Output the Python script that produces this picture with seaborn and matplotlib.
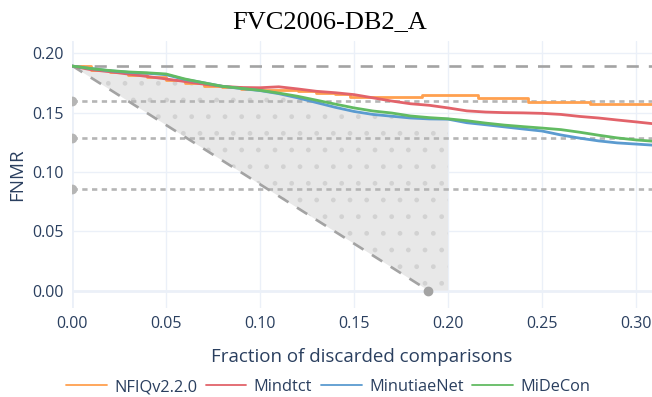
import numpy as np
import pandas as pd
import matplotlib
matplotlib.use("Agg")
import matplotlib.pyplot as plt
import seaborn as sns

# ---- data -------------------------------------------------------------
title = "FVC2006-DB2_A"
methods = ["NFIQv2.2.0", "Mindtct", "MinutiaeNet", "MiDeCon"]
colors = ["#ffa04f", "#e2636a", "#5b9bd0", "#62bb62"]

x_grid = [0.00, 0.01, 0.02, 0.03, 0.04, 0.05, 0.06, 0.07, 0.08, 0.09,
          0.10, 0.11, 0.12, 0.13, 0.14, 0.15, 0.16, 0.17, 0.18, 0.19,
          0.20, 0.21, 0.22, 0.23, 0.24, 0.25, 0.26, 0.27, 0.28, 0.29,
          0.30, 0.31]
fnmr_mindtct = [0.1893, 0.1862, 0.1845, 0.1825, 0.1805, 0.1784, 0.1762, 0.1740,
                0.1722, 0.1712, 0.1710, 0.1718, 0.1700, 0.1680, 0.1668, 0.1652,
                0.1625, 0.1598, 0.1575, 0.1562, 0.1540, 0.1515, 0.1505, 0.1500,
                0.1498, 0.1494, 0.1485, 0.1468, 0.1455, 0.1438, 0.1422, 0.1405]
fnmr_minutiaenet = [0.1893, 0.1872, 0.1853, 0.1840, 0.1832, 0.1820, 0.1780, 0.1752,
                    0.1722, 0.1703, 0.1686, 0.1660, 0.1625, 0.1585, 0.1545, 0.1510,
                    0.1485, 0.1470, 0.1455, 0.1447, 0.1445, 0.1415, 0.1398, 0.1380,
                    0.1362, 0.1345, 0.1312, 0.1285, 0.1262, 0.1245, 0.1235, 0.1225]
fnmr_midecon = [0.1893, 0.1872, 0.1855, 0.1843, 0.1836, 0.1826, 0.1784, 0.1752,
                0.1722, 0.1705, 0.1688, 0.1665, 0.1638, 0.1605, 0.1572, 0.1540,
                0.1514, 0.1497, 0.1472, 0.1458, 0.1448, 0.1432, 0.1412, 0.1395,
                0.1382, 0.1370, 0.1357, 0.1335, 0.1310, 0.1287, 0.1270, 0.1258]
# NFIQ curve is a step function: value holds until the next breakpoint
x_nfiq = [0.00, 0.01, 0.02, 0.03, 0.04, 0.05, 0.06, 0.07, 0.08, 0.09, 0.10,
          0.11, 0.12, 0.13, 0.14, 0.148, 0.186, 0.216, 0.2424, 0.2755, 0.31]
fnmr_nfiq = [0.1893, 0.1860, 0.1840, 0.1820, 0.1800, 0.1775, 0.1748, 0.1728,
             0.1718, 0.1702, 0.1692, 0.1690, 0.1685, 0.1668, 0.1655, 0.1634,
             0.1649, 0.1620, 0.1587, 0.1576, 0.1576]

fnmr_start = 0.1896                       # FNMR with nothing discarded
reference_levels = [0.1598, 0.1284, 0.0857]
shade_limit = 0.20

x_ticks = [0.00, 0.05, 0.10, 0.15, 0.20, 0.25, 0.30]
y_ticks = [0.00, 0.05, 0.10, 0.15, 0.20]

# ---- style ------------------------------------------------------------
sns.set_theme(style="white")
plt.rcParams["font.family"] = ["Open Sans", "DejaVu Sans"]
plt.rcParams["hatch.color"] = "#d2d2d2"
text_col = "#2a3f5f"
grid_col = "#ebf0f8"
ref_col = "#a3a3a3"

fig = plt.figure(figsize=(6.52, 3.97), dpi=100)
ax = fig.add_axes([72 / 652, 1 - 308 / 397, 580 / 652, 267 / 397])

x_min, x_max = 0.0, 0.3085
y_min, y_max = -0.0147, 0.2104

# grid and zero lines
for xv in x_ticks:
    ax.axvline(xv, color=grid_col, lw=2.0 if xv == 0 else 1.0, zorder=0)
for yv in y_ticks:
    ax.axhline(yv, color=grid_col, lw=2.0 if yv == 0 else 1.0, zorder=0)

# shaded region between the ideal line and the lowest curve
xs = np.union1d(np.array(x_grid)[np.array(x_grid) <= shade_limit], [fnmr_start])
nfiq_on_grid = np.array(fnmr_nfiq)[np.searchsorted(x_nfiq, x_grid, side="right") - 1]
lowest = np.minimum.reduce([np.array(fnmr_mindtct), np.array(fnmr_minutiaenet),
                            np.array(fnmr_midecon), nfiq_on_grid])
upper = np.interp(xs, x_grid, lowest)
lower = np.clip(fnmr_start - xs, 0, None)
ax.fill_between(xs, lower, upper, facecolor="#e8e8e8", edgecolor="#d2d2d2",
                linewidth=0, hatch=".", zorder=1)

# reference lines
ax.axhline(fnmr_start, color=ref_col, lw=1.9, ls=(0, (4.6, 3.8)), zorder=2)
for lvl in reference_levels:
    ax.plot([x_min, x_max], [lvl, lvl], color="#b5b5b5", lw=1.9,
            ls=(0, (2.0, 1.7)), zorder=2)
    ax.plot([0], [lvl], "o", color="#b5b5b5", ms=6, zorder=2)
ax.plot([0, fnmr_start], [fnmr_start, 0], color=ref_col, lw=1.9,
        ls=(0, (4.6, 3.8)), zorder=2)
ax.plot([fnmr_start], [0], "o", color=ref_col, ms=6, zorder=2)

# curves
curves = pd.DataFrame({
    "x": x_grid * 3,
    "fnmr": fnmr_mindtct + fnmr_minutiaenet + fnmr_midecon,
    "method": ["Mindtct"] * len(x_grid) + ["MinutiaeNet"] * len(x_grid)
              + ["MiDeCon"] * len(x_grid),
})
nfiq = pd.DataFrame({"x": x_nfiq, "fnmr": fnmr_nfiq})
sns.lineplot(data=nfiq, x="x", y="fnmr", color=colors[0], lw=2.0,
             drawstyle="steps-post", estimator=None, sort=False, ax=ax,
             zorder=3)
for name, col in zip(methods[1:], colors[1:]):
    sns.lineplot(data=curves[curves["method"] == name], x="x", y="fnmr",
                 color=col, lw=2.0, estimator=None, sort=False, ax=ax,
                 zorder=3)

ax.set_xlim(x_min, x_max)
ax.set_ylim(y_min, y_max)
ax.set_xticks(x_ticks)
ax.set_yticks(y_ticks)
ax.set_xticklabels([f"{v:.2f}" for v in x_ticks])
ax.set_yticklabels([f"{v:.2f}" for v in y_ticks])
ax.tick_params(axis="both", length=0, labelsize=11.5, colors=text_col, pad=6)
for s in ax.spines.values():
    s.set_visible(False)
ax.set_xlabel("Fraction of discarded comparisons", fontsize=13.5,
              color=text_col, labelpad=11)
ax.set_ylabel("FNMR", fontsize=13.5, color=text_col, labelpad=4)

fig.text(0.506, 1 - 22 / 397, title, ha="center", va="center",
         fontsize=19, family=["Liberation Serif", "DejaVu Serif"],
         color="black")

handles = [plt.Line2D([], [], color=c, lw=1.3) for c in colors]
fig.legend(handles, methods, loc="center", bbox_to_anchor=(0.503, 1 - 387 / 397),
           ncol=4, frameon=False, fontsize=11.8, labelcolor=text_col,
           handlelength=2.5, handletextpad=0.45, columnspacing=0.5,
           borderpad=0, borderaxespad=0)

fig.savefig("out.png", dpi=100, facecolor="white")
